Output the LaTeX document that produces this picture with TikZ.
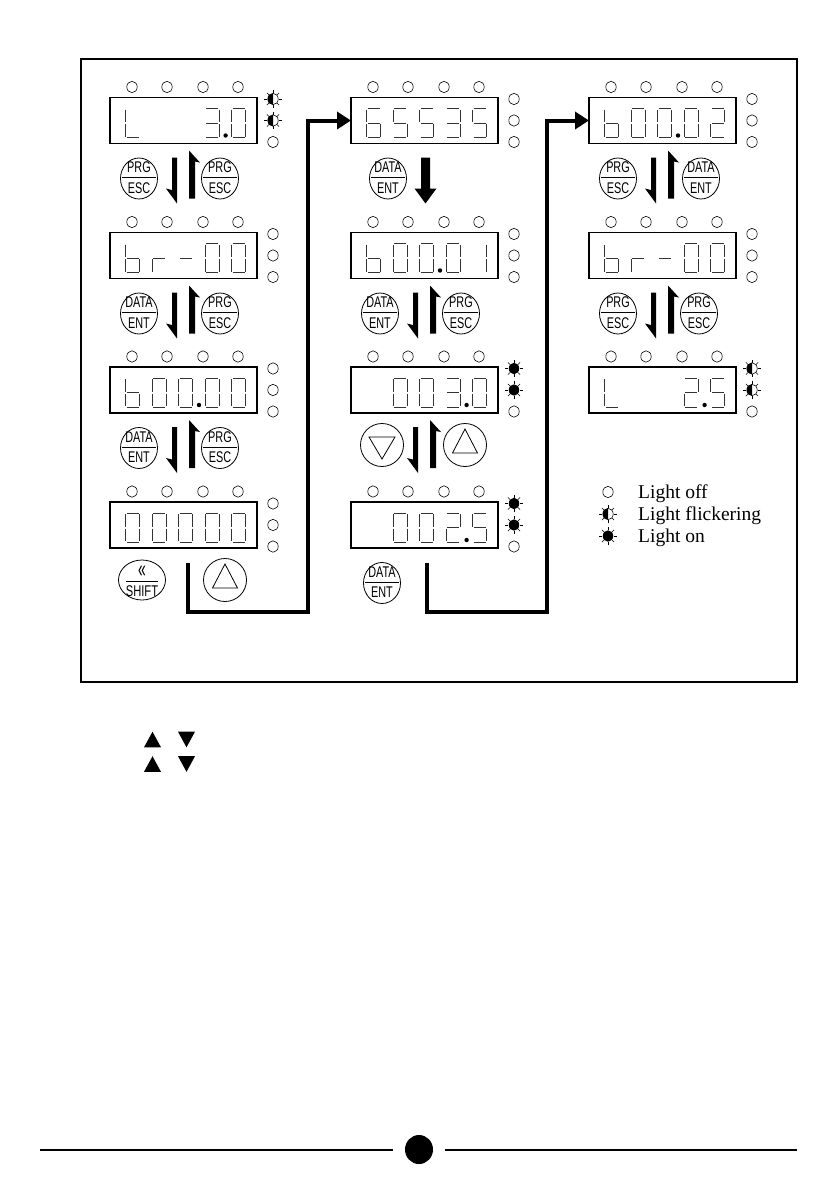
\documentclass[tikz,border=0pt]{standalone}
\usepackage{fontspec}
\usepackage{graphicx}
\setmainfont{Liberation Serif}
\newfontfamily\bfnt{Liberation Sans}
\usetikzlibrary{arrows.meta,calc,shapes.geometric}
% seven-segment pieces (digit box 14 x 29, y downward)
\newcommand{\sega}{\draw[seg] (1,0)--(13,0);}
\newcommand{\segb}{\draw[seg] (14,1)--(14,13.5);}
\newcommand{\segc}{\draw[seg] (14,15.5)--(14,28);}
\newcommand{\segd}{\draw[seg] (1,29)--(13,29);}
\newcommand{\sege}{\draw[seg] (0,15.5)--(0,28);}
\newcommand{\segf}{\draw[seg] (0,1)--(0,13.5);}
\newcommand{\segg}{\draw[seg] (1,14.5)--(13,14.5);}
\newcommand{\dg}[2]{\begin{scope}[shift={({15.5+26.6*#1},11)}]\foreach \s in {#2}{\csname seg\s\endcsname}\end{scope}}
\newcommand{\dpt}[1]{\fill ({35.8+26.6*#1},38) circle [radius=2.2];}
% LEDs
\newcommand{\ledrays}[2]{\foreach \a in {0,45,...,315}{\draw[line width=0.6pt] ($(#1,#2)+(\a:5.6)$) -- ($(#1,#2)+(\a:8.6)$);}}
\newcommand{\ledoff}[2]{\draw[led] (#1,#2) ellipse [x radius=5.2, y radius=5.7];}
\newcommand{\ledon}[2]{\fill (#1,#2) ellipse [x radius=5.2, y radius=5.7];\ledrays{#1}{#2}}
\newcommand{\ledfl}[2]{\begin{scope}\clip ({#1-9},{#2-9}) rectangle (#1,{#2+9});\fill (#1,#2) ellipse [x radius=5.2, y radius=5.7];\end{scope}\draw[led] (#1,#2) ellipse [x radius=5.2, y radius=5.7];\ledrays{#1}{#2}}
% display with its LEDs (relative to box top-left)
\newcommand{\disp}[4]{%
 \node[dispbox] (#1) at (73.5,23) {};
 \foreach \xo in {22,57,93,128}{\draw[led] (\xo,-10.5) ellipse [x radius=5.2, y radius=5.7];}
 \csname led#2\endcsname{163}{1.5}%
 \csname led#3\endcsname{163}{23}%
 \csname led#4\endcsname{163}{44.5}%
}
% buttons
\newcommand{\btn}[5]{%
 \node[btnshape] (#1) at (#2,#3) {};
 \draw[line width=0.8pt] ({#2-17},{#3-1}) -- ({#2+17},{#3-1});
 \node[btntxt] (#1t) at (#2,{#3-11}) {\scalebox{0.7}[1]{#4}};
 \node[btntxt] (#1b) at (#2,{#3+9.5}) {\scalebox{0.7}[1]{#5}};
}
\newcommand{\upbtn}[3]{\node[tribtn] (#1) at (#2,#3) {};\draw[line width=0.8pt,line join=miter] (#2,{#3-16}) -- ({#2-12.5},{#3+8}) -- ({#2+12.5},{#3+8}) -- cycle;}
\newcommand{\dnbtn}[3]{\node[tribtn] (#1) at (#2,#3) {};\draw[line width=0.8pt,line join=miter] ({#2-13},{#3-8}) -- ({#2+13},{#3-8}) -- (#2,{#3+14}) -- cycle;}
% harpoons between two displays
\newcommand{\harps}{%
 \fill (62,60) -- (67,60) -- (67,106) -- (56,91) -- (62,92.5) -- cycle;
 \fill (79,53) -- (90,65) -- (85,64) -- (85,101) -- (79,101) -- cycle;
}
\begin{document}
\begin{tikzpicture}[x=1pt,y=-1pt,
 dispbox/.style={draw,line width=1.1pt,minimum width=147pt,minimum height=46pt,inner sep=0pt,outer sep=0pt},
 seg/.style={line width=0.9pt,black!80},
 led/.style={line width=0.6pt},
 btnshape/.style={draw,ellipse,line width=0.8pt,minimum width=37pt,minimum height=41pt,inner sep=0pt},
 tribtn/.style={draw,circle,line width=0.8pt,minimum size=43pt,inner sep=0pt},
 shiftshape/.style={draw,ellipse,line width=0.8pt,minimum width=47pt,minimum height=40pt,inner sep=0pt},
 btntxt/.style={inner sep=0pt,font=\bfnt\fontsize{15.5}{15.5}\selectfont},
 legtxt/.style={inner sep=0pt,font=\fontsize{19.5}{20}\selectfont},
 conn/.style={line width=4pt,line join=miter,-{Triangle[length=14pt,width=17pt]}}]
\useasboundingbox (0,0) rectangle (840,1192);
\fill[white] (0,0) rectangle (840,1192);
\draw[line width=2pt] (81,59) rectangle (797,682);
% ---------- column 1
\begin{scope}[shift={(110,97.5)}]
 \disp{c1r1}{fl}{fl}{off}
 \dg{0}{f,e,d}\dg{3}{a,b,g,c,d}\dg{4}{a,b,c,d,e,f}\dpt{3}
 \btn{b11}{29}{81}{PRG}{ESC}\btn{b12}{110}{81}{PRG}{ESC}
 \harps
\end{scope}
\begin{scope}[shift={(110,232.5)}]
 \disp{c1r2}{off}{off}{off}
 \dg{0}{f,e,g,c,d}\dg{1}{e,g}\dg{2}{g}\dg{3}{a,b,c,d,e,f}\dg{4}{a,b,c,d,e,f}
 \btn{b21}{29}{81}{DATA}{ENT}\btn{b22}{110}{81}{PRG}{ESC}
 \harps
\end{scope}
\begin{scope}[shift={(110,367)}]
 \disp{c1r3}{off}{off}{off}
 \dg{0}{f,e,g,c,d}\dg{1}{a,b,c,d,e,f}\dg{2}{a,b,c,d,e,f}\dg{3}{a,b,c,d,e,f}\dg{4}{a,b,c,d,e,f}\dpt{2}
 \btn{b31}{29}{81}{DATA}{ENT}\btn{b32}{110}{81}{PRG}{ESC}
 \harps
\end{scope}
\begin{scope}[shift={(110,502)}]
 \disp{c1r4}{off}{off}{off}
 \dg{0}{a,b,c,d,e,f}\dg{1}{a,b,c,d,e,f}\dg{2}{a,b,c,d,e,f}\dg{3}{a,b,c,d,e,f}\dg{4}{a,b,c,d,e,f}
 \node[shiftshape] (shf) at (32,78) {};
 \draw[line width=0.8pt] (16,79.5) -- (48,79.5);
 \node[btntxt] (shft) at (32,70) {\scalebox{0.9}[1.6]{«}};
 \node[btntxt] (shfb) at (32,89.5) {\scalebox{0.72}[1]{SHIFT}};
 \upbtn{u41}{115}{78}
 \coordinate (s1) at (78,61);
\end{scope}
% ---------- column 2
\begin{scope}[shift={(351,97.5)}]
 \disp{c2r1}{off}{off}{off}
 \dg{0}{a,f,g,e,d,c}\dg{1}{a,f,g,c,d}\dg{2}{a,f,g,c,d}\dg{3}{a,b,g,c,d}\dg{4}{a,f,g,c,d}
 \btn{b51}{37}{81}{DATA}{ENT}
 \fill (70,60) -- (79,60) -- (79,91) -- (85.5,91) -- (74.5,106) -- (63.5,91) -- (70,91) -- cycle;
\end{scope}
\begin{scope}[shift={(351,232.5)}]
 \disp{c2r2}{off}{off}{off}
 \dg{0}{f,e,g,c,d}\dg{1}{a,b,c,d,e,f}\dg{2}{a,b,c,d,e,f}\dg{3}{a,b,c,d,e,f}\dg{4}{b,c}\dpt{2}
 \btn{b61}{29}{81}{DATA}{ENT}\btn{b62}{110}{81}{PRG}{ESC}
 \harps
\end{scope}
\begin{scope}[shift={(351,367)}]
 \disp{c2r3}{on}{on}{off}
 \dg{1}{a,b,c,d,e,f}\dg{2}{a,b,c,d,e,f}\dg{3}{a,b,g,c,d}\dg{4}{a,b,c,d,e,f}\dpt{3}
 \dnbtn{d71}{31}{78}\upbtn{u72}{114}{78}
 \harps
\end{scope}
\begin{scope}[shift={(351,502)}]
 \disp{c2r4}{on}{on}{off}
 \dg{1}{a,b,c,d,e,f}\dg{2}{a,b,c,d,e,f}\dg{3}{a,b,g,e,d}\dg{4}{a,f,g,c,d}\dpt{3}
 \btn{b81}{31}{81}{DATA}{ENT}
 \coordinate (s2) at (76,61);
\end{scope}
% ---------- column 3
\begin{scope}[shift={(589,97.5)}]
 \disp{c3r1}{off}{off}{off}
 \dg{0}{f,e,g,c,d}\dg{1}{a,b,c,d,e,f}\dg{2}{a,b,c,d,e,f}\dg{3}{a,b,c,d,e,f}\dg{4}{a,b,g,e,d}\dpt{2}
 \btn{b91}{29}{81}{PRG}{ESC}\btn{b92}{112}{81}{DATA}{ENT}
 \harps
\end{scope}
\begin{scope}[shift={(589,232.5)}]
 \disp{c3r2}{off}{off}{off}
 \dg{0}{f,e,g,c,d}\dg{1}{e,g}\dg{2}{g}\dg{3}{a,b,c,d,e,f}\dg{4}{a,b,c,d,e,f}
 \btn{b101}{29}{81}{PRG}{ESC}\btn{b102}{110}{81}{PRG}{ESC}
 \harps
\end{scope}
\begin{scope}[shift={(589,367)}]
 \disp{c3r3}{fl}{fl}{off}
 \dg{0}{f,e,d}\dg{3}{a,b,g,e,d}\dg{4}{a,f,g,c,d}\dpt{3}
\end{scope}
% ---------- connectors
\coordinate (k1) at (308,612);
\coordinate (k2) at (547,612);
\draw[conn] (s1) |- (k1) |- (c2r1.west);
\draw[conn] (s2) |- (k2) |- (c3r1.west);
% ---------- legend
\ledoff{608}{492}
\node[legtxt,anchor=base west] (lg1) at (638,498) {Light off};
\ledfl{608}{514}
\node[legtxt,anchor=base west] (lg2) at (638,520) {Light flickering};
\ledon{608}{536}
\node[legtxt,anchor=base west] (lg3) at (638,542) {Light on};
% ---------- triangles below the frame
\fill (144,747.3) -- (161,747.3) -- (152.5,731.7) -- cycle;
\fill (178,731.7) -- (195,731.7) -- (186.5,747.3) -- cycle;
\fill (144,771.8) -- (161,771.8) -- (152.5,756.2) -- cycle;
\fill (178,756.2) -- (195,756.2) -- (186.5,771.8) -- cycle;
% ---------- footer
\draw[line width=2pt] (40,1150) -- (393,1150);
\draw[line width=2pt] (445,1150) -- (797,1150);
\fill (419,1149.5) ellipse [x radius=14, y radius=14.5];
\end{tikzpicture}
\end{document}
